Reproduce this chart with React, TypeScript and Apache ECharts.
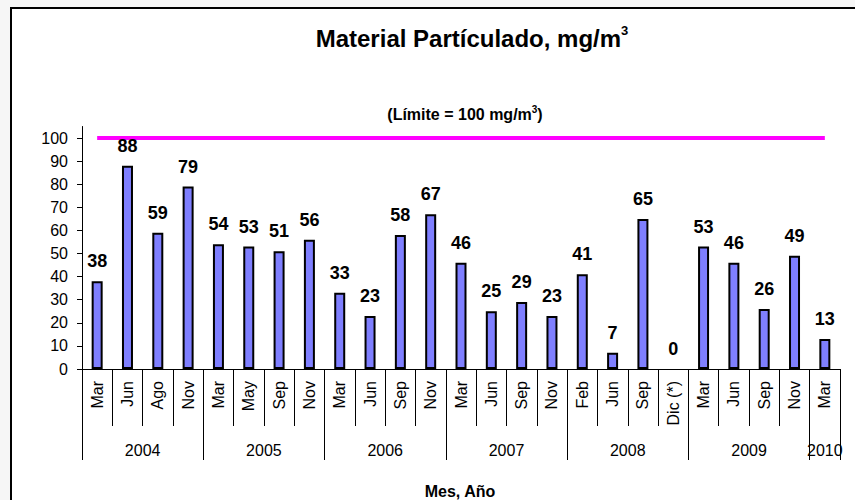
import React, { useEffect, useRef } from "react";
import * as echarts from "echarts";

const months = ["Mar", "Jun", "Ago", "Nov", "Mar", "May", "Sep", "Nov", "Mar", "Jun", "Sep", "Nov", "Mar", "Jun", "Sep", "Nov", "Feb", "Jun", "Sep", "Dic (*)", "Mar", "Jun", "Sep", "Nov", "Mar"];
const years = ["2004", "2004", "2004", "2004", "2005", "2005", "2005", "2005", "2006", "2006", "2006", "2006", "2007", "2007", "2007", "2007", "2008", "2008", "2008", "2008", "2009", "2009", "2009", "2009", "2010"];
const values = [38, 88, 59, 79, 54, 53, 51, 56, 33, 23, 58, 67, 46, 25, 29, 23, 41, 7, 65, 0, 53, 46, 26, 49, 13];
const LIMIT = 100;
const yTicks = [0, 10, 20, 30, 40, 50, 60, 70, 80, 90, 100];

const FONT = "'Liberation Sans', Arial, sans-serif";

export default function App() {
  const ref = useRef<HTMLDivElement>(null);
  useEffect(() => {
    if (!ref.current) return;
    const chart = echarts.init(ref.current, null, { renderer: "svg" });

    // year groups derived from data
    const groups: { year: string; start: number; end: number }[] = [];
    years.forEach((y, i) => {
      const g = groups[groups.length - 1];
      if (g && g.year === y) g.end = i + 1;
      else groups.push({ year: y, start: i, end: i + 1 });
    });
    const boundaries = [0, ...groups.map((g) => g.end)];
    const centers = groups.map((g) => (g.start + g.end) / 2);
    const centerYear = (v: number) => {
      const g = groups.find((gg) => Math.abs((gg.start + gg.end) / 2 - v) < 1e-6);
      return g ? g.year : "";
    };

    chart.setOption({
      animation: false,
      backgroundColor: "#f6f6f6",
      textStyle: { fontFamily: FONT },
      graphic: [
        {
          type: "rect",
          z: -10,
          silent: true,
          shape: { x: 11, y: 8, width: 860, height: 510 },
          style: { fill: "#ffffff", stroke: "#000000", lineWidth: 2 },
        },
      ],
      title: [
        {
          text: "{a|Material Partículado, mg/m}{s|3}",
          left: 467,
          top: 19,
          textAlign: "center",
          textStyle: {
            rich: {
              a: { fontSize: 24, fontWeight: "bold", color: "#000", fontFamily: FONT, lineHeight: 28 },
              s: { fontSize: 13, fontWeight: "bold", color: "#000", fontFamily: FONT, lineHeight: 14, verticalAlign: "top" },
            },
          },
        },
        {
          text: "{a|(Límite = 100 mg/m}{s|3}{a|)}",
          left: 460,
          top: 99,
          textAlign: "center",
          textStyle: {
            rich: {
              a: { fontSize: 16, fontWeight: "bold", color: "#000", fontFamily: FONT, lineHeight: 20 },
              s: { fontSize: 10, fontWeight: "bold", color: "#000", fontFamily: FONT, lineHeight: 10, verticalAlign: "top" },
            },
          },
        },
        {
          text: "Mes, Año",
          left: 455,
          top: 478,
          textAlign: "center",
          textStyle: { fontSize: 16, fontWeight: "bold", color: "#000", fontFamily: FONT },
        },
      ],
      grid: { left: 82, right: 15, top: 126.5, bottom: 131, containLabel: false },
      xAxis: [
        {
          type: "category",
          data: months,
          boundaryGap: true,
          position: "bottom",
          axisLine: { show: true, lineStyle: { color: "#000", width: 1 } },
          axisTick: { show: true, interval: 0, length: 57, lineStyle: { color: "#000", width: 1 } },
          axisLabel: { interval: 0, rotate: 90, margin: 12, fontSize: 16, color: "#000", fontFamily: FONT },
          splitLine: { show: false },
        },
        {
          type: "value",
          min: 0,
          max: months.length,
          position: "bottom",
          axisLine: { show: false },
          axisTick: { show: true, customValues: boundaries, length: 91, lineStyle: { color: "#000", width: 1 } },
          axisLabel: {
            show: true,
            customValues: centers,
            margin: 73,
            fontSize: 16,
            color: "#000",
            fontFamily: FONT,
            formatter: (v: number) => centerYear(v),
          },
          splitLine: { show: false },
        },
      ],
      yAxis: {
        type: "value",
        min: 0,
        max: 105,
        interval: 10,
        axisLine: { show: true, lineStyle: { color: "#000", width: 1 } },
        axisTick: { show: true, length: 5, customValues: yTicks, lineStyle: { color: "#000" } },
        axisLabel: { customValues: yTicks, margin: 14, fontSize: 16, color: "#000", fontFamily: FONT },
        splitLine: { show: false },
      },
      series: [
        {
          type: "bar",
          data: values.map((v) => (v === 0 ? { value: v, itemStyle: { borderWidth: 0 } } : v)),
          xAxisIndex: 0,
          barWidth: 11,
          itemStyle: { color: "#7F7FFF", borderColor: "#000", borderWidth: 2 },
          label: {
            show: true,
            position: "top",
            distance: 11,
            fontSize: 18,
            fontWeight: "bold",
            color: "#000",
            fontFamily: FONT,
          },
          z: 2,
        },
        {
          type: "line",
          data: months.map(() => LIMIT),
          xAxisIndex: 0,
          symbol: "none",
          lineStyle: { color: "#FF00FF", width: 4 },
          z: 1,
        },
      ],
    });
    return () => chart.dispose();
  }, []);
  return (
    <div
      ref={ref}
      style={{ position: "fixed", left: 0, top: 0, width: 855, height: 500 }}
    />
  );
}
